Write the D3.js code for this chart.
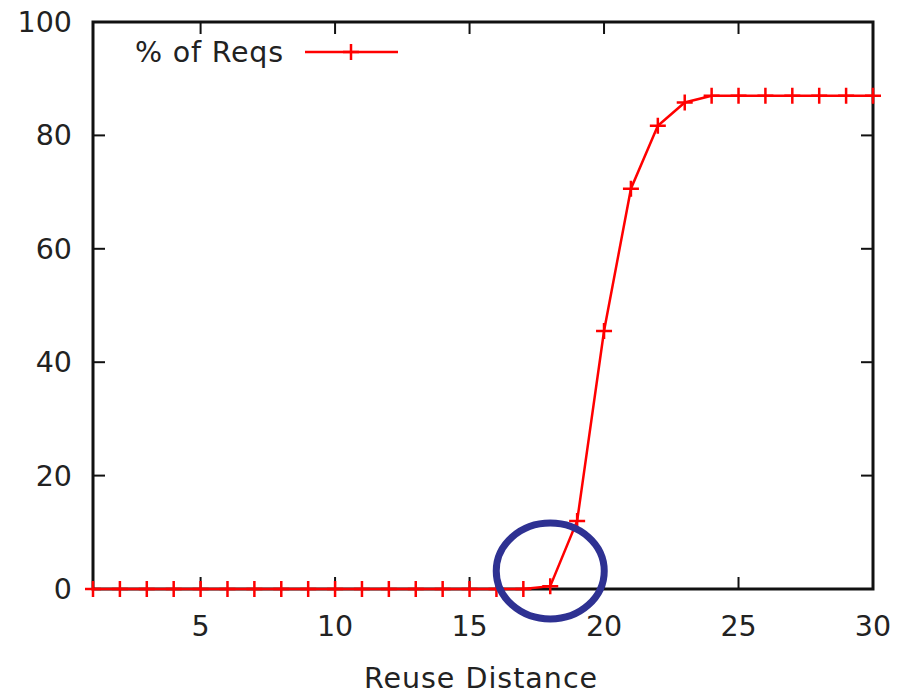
<!DOCTYPE html>
<html>
<head>
<meta charset="utf-8">
<script src="https://cdn.jsdelivr.net/npm/d3@7"></script>
<style>
  body { margin: 0; background: #fff; }
  text { font-family: "DejaVu Sans", sans-serif; fill: #222; }
</style>
</head>
<body>
<script>
const distances = d3.range(1, 31)
const pctReqs = [0, 0, 0, 0, 0, 0, 0, 0, 0, 0, 0, 0, 0, 0, 0, 0, 0, 0.5, 12, 45.5, 70.6, 81.7, 85.8, 87, 87, 87, 87, 87, 87, 87]
const xTicks = [5, 10, 15, 20, 25, 30]
const yTicks = [0, 20, 40, 60, 80, 100]

const W = 906, H = 694
const plotL = 93, plotR = 873, plotT = 22, plotB = 589
const fs = 28.5

const svg = d3.select('body').append('svg')
  .attr('width', W)
  .attr('height', H)

const x = d3.scaleLinear().domain([1, 30]).range([plotL, plotR])
const y = d3.scaleLinear().domain([0, 100]).range([plotB, plotT])

const tickLen = 12

// ticks (inside, mirrored like gnuplot)
const g = svg.append('g').attr('stroke', '#111').attr('stroke-width', 2)
yTicks.forEach(v => {
  g.append('line').attr('x1', plotL).attr('x2', plotL + tickLen).attr('y1', y(v)).attr('y2', y(v))
  g.append('line').attr('x1', plotR).attr('x2', plotR - tickLen).attr('y1', y(v)).attr('y2', y(v))
})
xTicks.forEach(v => {
  g.append('line').attr('x1', x(v)).attr('x2', x(v)).attr('y1', plotB).attr('y2', plotB - tickLen)
  g.append('line').attr('x1', x(v)).attr('x2', x(v)).attr('y1', plotT).attr('y2', plotT + tickLen)
})

svg.append('rect')
  .attr('x', plotL).attr('y', plotT)
  .attr('width', plotR - plotL).attr('height', plotB - plotT)
  .attr('fill', 'none').attr('stroke', '#111').attr('stroke-width', 3)

// tick labels
svg.selectAll('.ylab').data(yTicks).enter().append('text')
  .attr('x', 72).attr('y', d => y(d) + 10)
  .attr('text-anchor', 'end')
  .attr('font-size', fs)
  .text(d => d)

svg.selectAll('.xlab').data(xTicks).enter().append('text')
  .attr('x', d => x(d)).attr('y', 636)
  .attr('text-anchor', 'middle')
  .attr('font-size', fs)
  .text(d => d)

svg.append('text')
  .attr('x', 481).attr('y', 688)
  .attr('text-anchor', 'middle')
  .attr('font-size', fs)
  .attr('letter-spacing', 1)
  .text('Reuse Distance')

// data line
const line = d3.line().x((d, i) => x(distances[i])).y(d => y(d))
svg.append('path')
  .datum(pctReqs)
  .attr('d', line)
  .attr('fill', 'none')
  .attr('stroke', '#ff0000')
  .attr('stroke-width', 2.5)

const m = 8
const marks = svg.append('g').attr('stroke', '#ff0000').attr('stroke-width', 2.5)
pctReqs.forEach((v, i) => {
  const cx = x(distances[i]), cy = y(v)
  marks.append('path').attr('d', `M${cx - m},${cy}H${cx + m}M${cx},${cy - m}V${cy + m}`)
})

// legend
svg.append('text')
  .attr('x', 135).attr('y', 62)
  .attr('font-size', fs)
  .attr('letter-spacing', 0.8)
  .text('% of Reqs')
svg.append('line')
  .attr('x1', 305).attr('x2', 398).attr('y1', 52).attr('y2', 52)
  .attr('stroke', '#ff0000').attr('stroke-width', 2.5)
svg.append('path')
  .attr('d', `M${351 - m},52H${351 + m}M351,${52 - m}V${52 + m}`)
  .attr('stroke', '#ff0000').attr('stroke-width', 2.5)

// highlight circle
svg.append('ellipse')
  .attr('cx', x(18)).attr('cy', 571)
  .attr('rx', 54).attr('ry', 48)
  .attr('fill', 'none')
  .attr('stroke', '#2e3192')
  .attr('stroke-width', 7)
</script>
</body>
</html>
